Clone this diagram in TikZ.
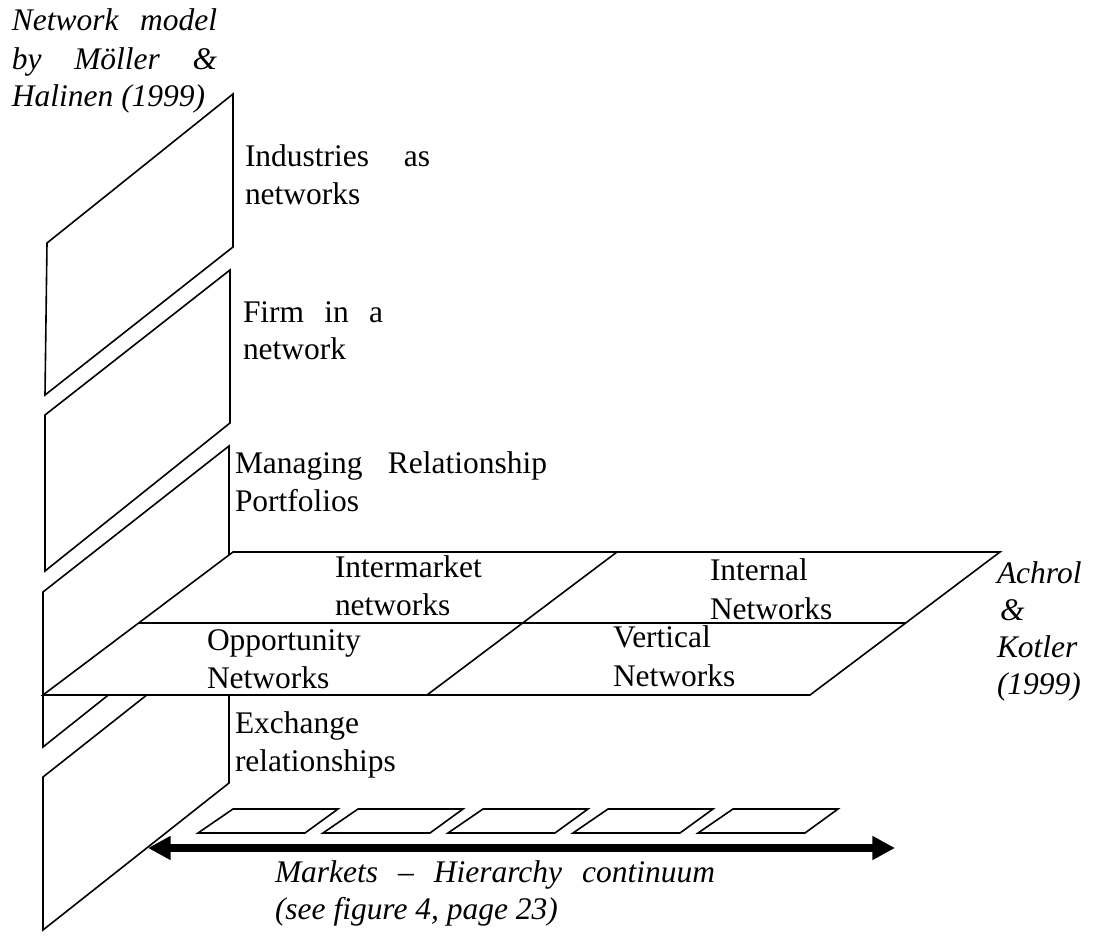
\documentclass[tikz,border=0pt]{standalone}
\usepackage{fontspec}
\setmainfont{Liberation Serif}
\usetikzlibrary{arrows.meta}
\newcommand\lblsize{\fontsize{23.6}{28}\selectfont}
\newcommand\jline[2]{\makebox[#1][s]{#2}}
\begin{document}
\begin{tikzpicture}[x=0.75pt,y=-0.75pt,
  plane/.style={draw=black, fill=white, line width=1.2pt, line join=miter},
  edge/.style={draw=black, line width=1.2pt},
  tile/.style={draw=black, fill=white, line width=1.2pt},
  txt/.style={anchor=base west, inner sep=0pt, outer sep=0pt, font=\lblsize},
  itxt/.style={txt, font=\lblsize\itshape},
  continuum/.style={line width=6pt,
    {Triangle[length=17pt,width=17pt]}-{Triangle[length=17pt,width=17pt]}}]
\useasboundingbox (0,0) rectangle (1100,938);

% vertical levels of the network model
\draw[plane] (47,243) -- (233,94) -- (233,247) -- (45,395) -- cycle;
\draw[plane] (45,415) -- (230,270) -- (230,423) -- (45,571) -- cycle;
\draw[plane] (43,592) -- (229,446) -- (229,599) -- (43,747) -- cycle;
\draw[plane] (43,777) -- (229,630) -- (229,783) -- (43,930) -- cycle;

% horizontal plane of network types
\draw[plane] (43,695) -- (233,552) -- (1000,552) -- (810,695) -- cycle;
\coordinate (divtop) at (617,552);
\coordinate (divbot) at (427,695);
\coordinate (midl) at (139,623);
\coordinate (midr) at (905,623);
\draw[edge] (divtop) -- (divbot);
\draw[edge] (midl) -- (midr);

% market-hierarchy tiles
\foreach \k in {0,...,4}{
  \draw[tile] (198+125*\k,833) -- (233+125*\k,809) -- (338+125*\k,809) -- (305+125*\k,833) -- cycle;
}

% continuum arrow
\coordinate (mkt) at (148,848);
\coordinate (hier) at (895,848);
\draw[continuum] (mkt) -- (hier);

% labels
\node[itxt] (nm1) at (12,31) {\jline{153.75pt}{Network model}};
\node[itxt] (nm2) at (12,69.5) {\jline{153.75pt}{by Möller \&}};
\node[itxt] (nm3) at (12,107) {Halinen (1999)};

\node[txt] (ind1) at (245,167) {\jline{138.75pt}{Industries as}};
\node[txt] (ind2) at (245,204.5) {networks};

\node[txt] (firm1) at (243,322) {\jline{105pt}{Firm in a}};
\node[txt] (firm2) at (243,359.5) {network};

\node[txt] (mrp1) at (235,473) {\jline{234pt}{Managing Relationship}};
\node[txt] (mrp2) at (235,511) {Portfolios};

\node[txt] (im1) at (335,577) {Intermarket};
\node[txt] (im2) at (335,615) {networks};

\node[txt] (in1) at (710,580) {Internal};
\node[txt] (in2) at (710,619) {Networks};

\node[txt] (op1) at (207,650) {Opportunity};
\node[txt] (op2) at (207,688) {Networks};

\node[txt] (ve1) at (613,647) {Vertical};
\node[txt] (ve2) at (613,686) {Networks};

\node[itxt] (ak1) at (997,583) {Achrol};
\node[itxt] (ak2) at (1000,620) {\&};
\node[itxt] (ak3) at (997,657) {Kotler};
\node[itxt] (ak4) at (997,694) {(1999)};

\node[txt] (ex1) at (235,733) {Exchange};
\node[txt] (ex2) at (235,771) {relationships};

\node[itxt] (mh1) at (275,882) {\jline{330pt}{Markets -- Hierarchy continuum}};
\node[itxt] (mh2) at (275,919) {(see figure 4, page 23)};
\end{tikzpicture}
\end{document}
